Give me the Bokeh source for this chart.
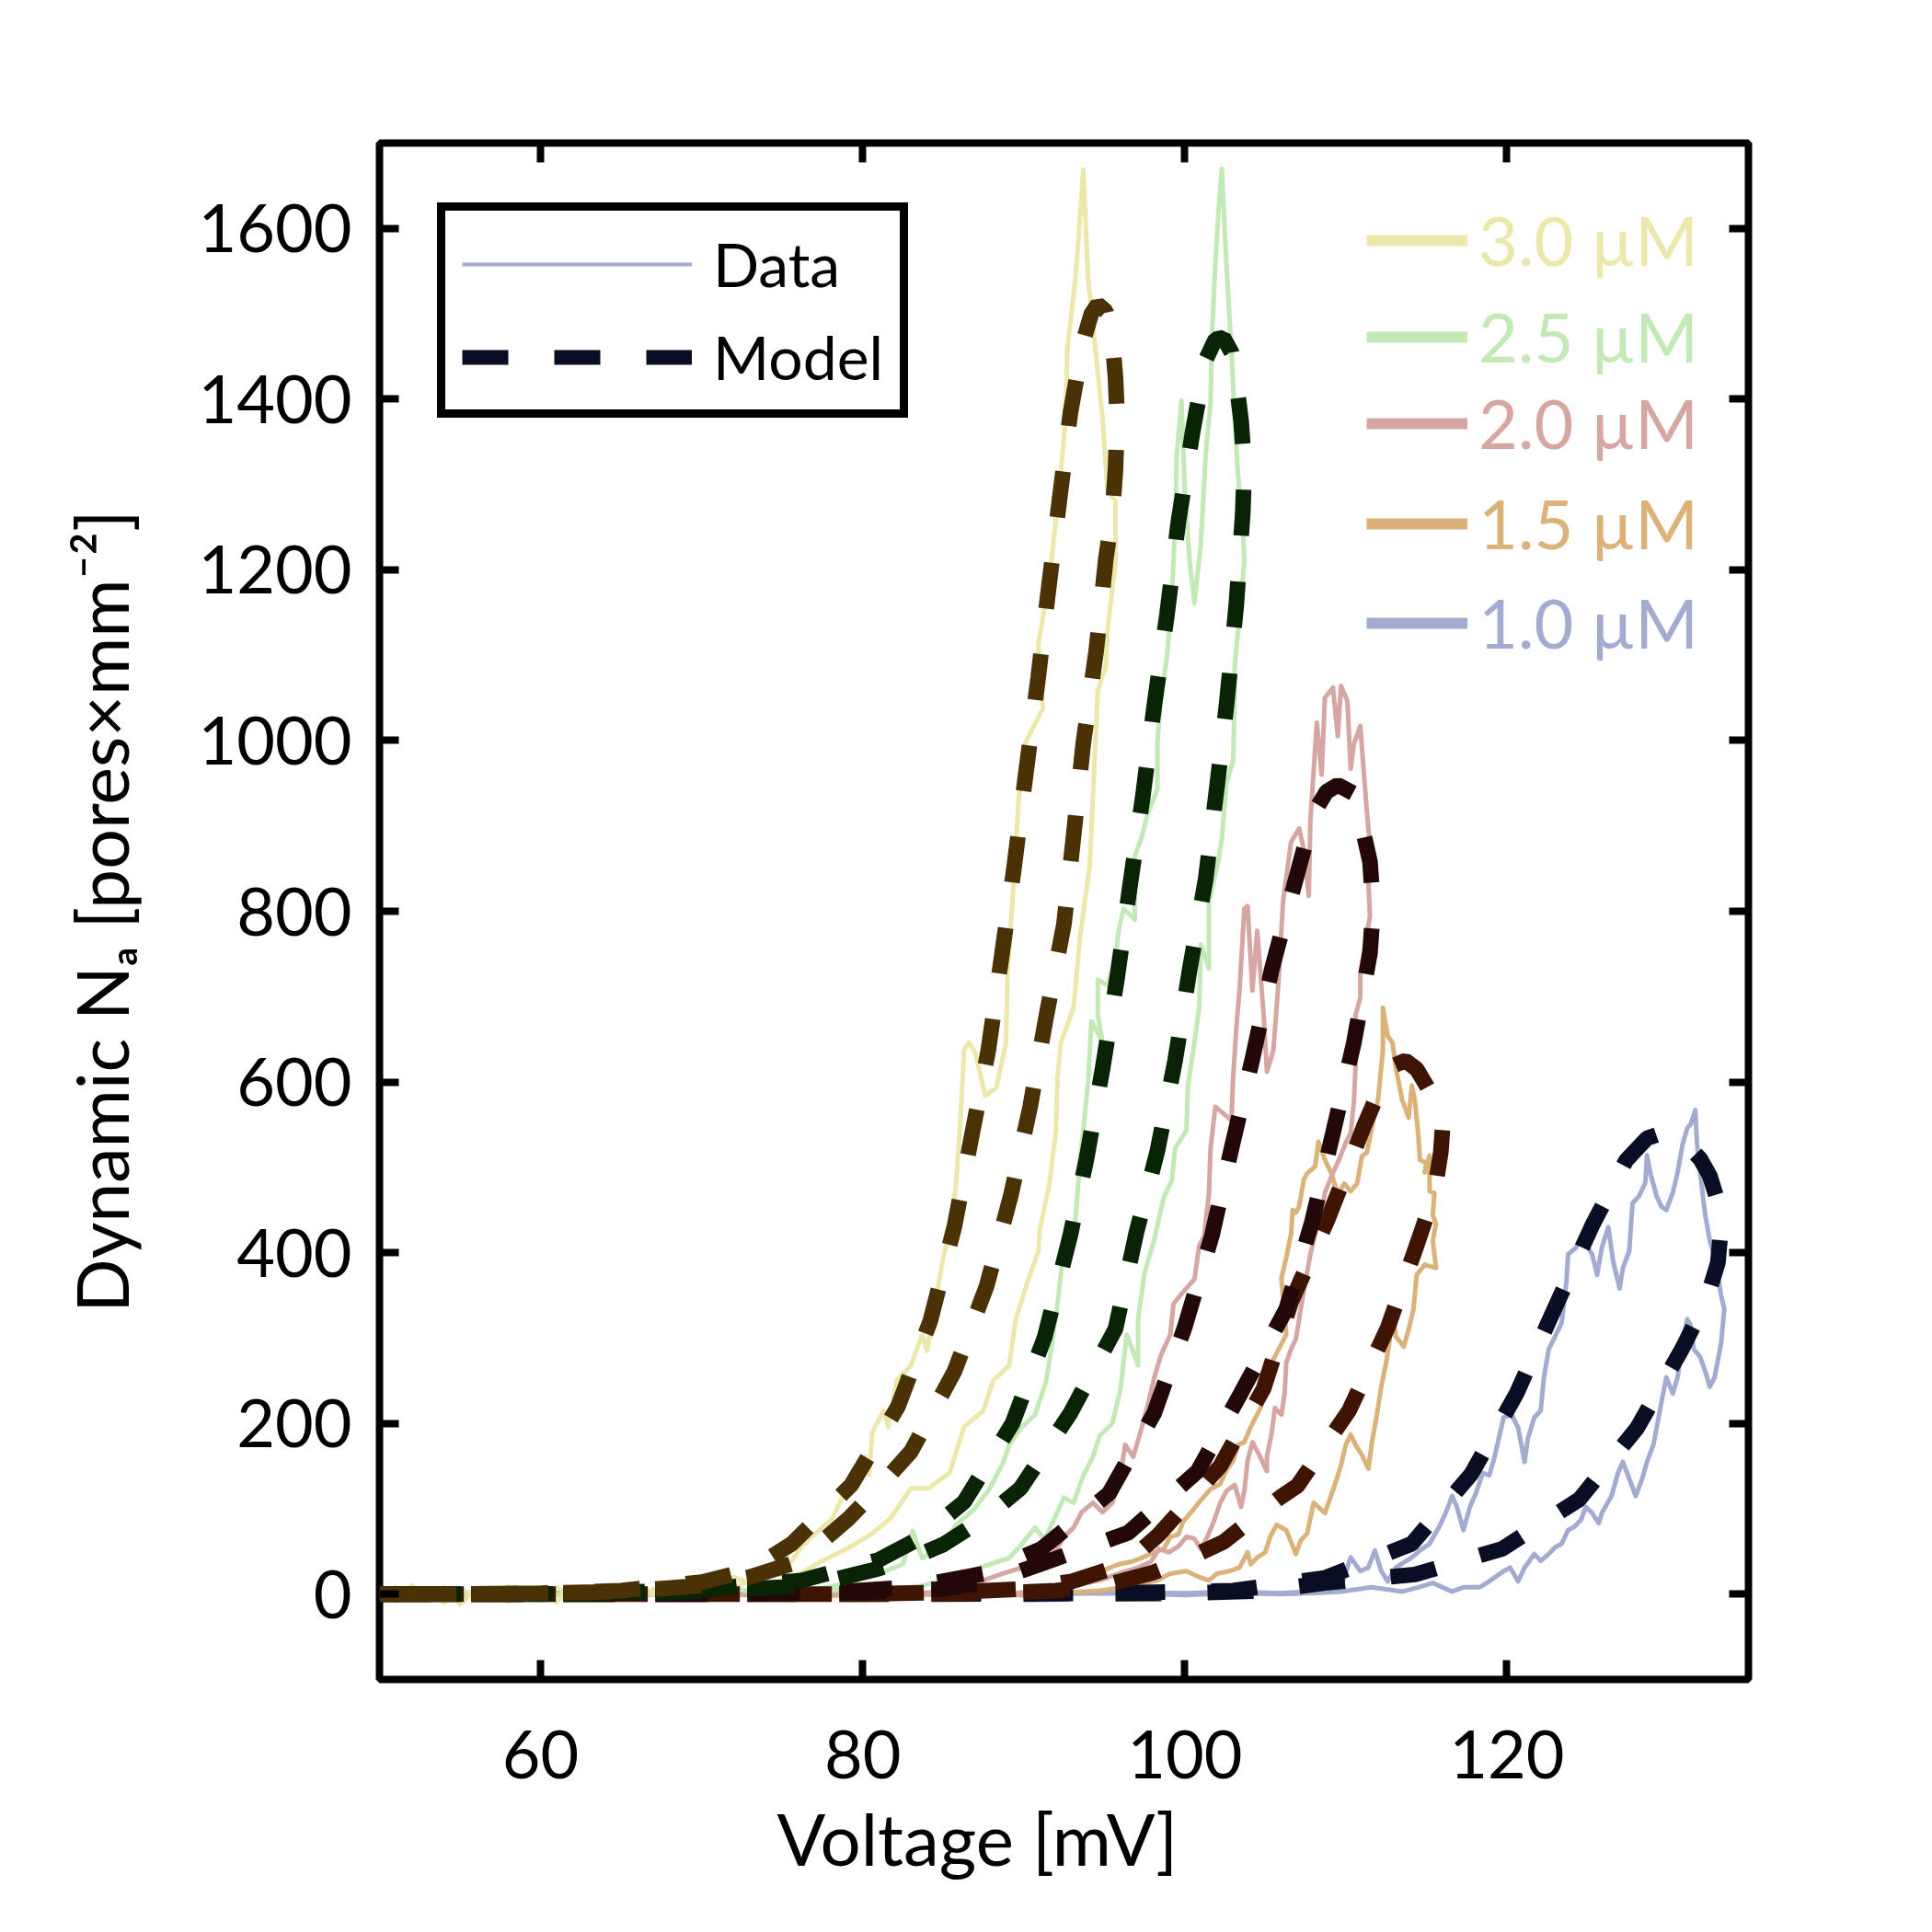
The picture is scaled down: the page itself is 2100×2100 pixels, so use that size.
import math
from bokeh.plotting import figure
from bokeh.models import Range1d, FixedTicker, LinearAxis, Legend, LegendItem, Title
from bokeh.embed import file_html
from bokeh.resources import INLINE

# ---------------- tick values ----------------
x_ticks = [60, 80, 100, 120]
y_ticks = [0, 200, 400, 600, 800, 1000, 1200, 1400, 1600]

conc_labels = ["3.0 µM", "2.5 µM", "2.0 µM", "1.5 µM", "1.0 µM"]
data_colors = ["#ece7aa", "#c3e9b6", "#d6a6a2", "#dbb27a", "#a3acd0"]
model_colors = ["#4a3206", "#082405", "#230808", "#3e1402", "#0a0e24"]

# ---------------- measured data (voltage mV, Na pores/mm^2) ----------------
V30_data = [50, 51, 52, 53, 54, 55, 56, 57, 58, 59, 60, 61, 62, 63, 64, 65, 66, 67, 68, 69, 70, 71, 72, 73, 74, 75,
            76.1, 77.0, 78.1, 79.0, 80.1, 80.4, 80.6, 81.3, 81.6, 82.1, 83.0, 83.7, 84.0, 84.5, 85.0, 85.5, 85.8, 86.1,
            86.3, 86.6, 87.0, 87.6, 88.3, 88.9, 89.0, 89.3, 89.7, 90.1, 91.2, 90.9, 91.6, 92.2, 92.6, 92.7, 93.2, 93.4,
            93.7,
            93.9, 94.0, 94.5, 94.9, 95.2, 95.7, 95.7, 95.2, 95.1, 94.6, 94.5, 94.3, 94.1, 93.5, 93.1, 92.7, 92.3, 92.1,
            92.0, 91.6, 91.0, 90.9, 90.3, 89.5, 89.1, 88.1, 87.5, 86.3, 85.4, 84.1, 83.0, 81.7, 80.5, 79.0, 77.4, 76.1,
            75, 74, 73, 72, 71, 70, 69, 68, 67, 66, 65, 64, 63, 62, 61, 60, 59, 58, 57, 56, 55, 54, 53, 52, 51, 50]
N30_data = [5, -8, 10, -5, 8, -12, 6, -4, 9, -6, 4, -9, 7, -3, 10, -2, 8, 0, 12, 4, 15, 6, 20, 12, 28, 22,
            53, 70, 88, 124, 161, 140, 189, 215, 196, 250, 268, 304, 285, 340, 394, 431, 481, 564,
            638, 646, 634, 584, 593, 646, 729, 811, 935, 997, 1038, 1112, 1190, 1293, 1376, 1457, 1540, 1586,
            1669,
            1582, 1541, 1450, 1376, 1293, 1281, 1211, 1128, 1087, 1059, 1018, 935, 853, 770, 688, 666, 646, 605,
            543, 481, 427, 401, 369, 322, 268, 250, 215, 196, 142, 124, 124, 88, 70, 53, 38, 24,
            15, 8, 18, 5, 12, 2, 9, -3, 6, -5, 4, -7, 5, -4, 8, -6, 3, -9, 5, -3, 7, -10, 4, -6, 8, -2]

V25_data = [50, 52, 54, 56, 58, 60, 62, 64, 66, 68, 70, 72, 74, 76,
            77.0, 79.0, 81.0, 82.5, 83.1, 83.7, 84.9, 85.8, 86.9, 87.9, 88.7, 89.1, 89.9, 90.7, 91.4, 91.7, 92.1, 92.5,
            93.1, 93.3, 93.5, 93.7, 94.0, 94.2, 94.9, 94.6, 94.6, 95.2, 95.7, 95.9, 96.2, 96.9, 96.9, 97.3, 97.7, 98.3,
            98.3, 98.5, 98.9, 99.2, 99.4, 99.5, 99.8, 100.0, 100.3, 100.6, 101.0, 101.3, 101.6, 101.7, 101.9, 102.1,
            102.3,
            102.5, 102.7, 102.9, 103.1, 103.3, 103.6, 103.7, 103.4, 103.1, 103.1, 103.0, 102.6, 102.3, 102.1, 101.5,
            101.5, 101.0, 100.9, 100.6, 100.2, 100.1, 99.4, 99.2, 98.7, 98.1, 97.5, 97.1, 97.1, 96.4, 96.0, 95.5, 94.7,
            94.3, 93.7, 93.1, 92.5, 91.9, 91.3, 90.7, 89.9, 89.1, 87.9, 86.6, 85.4, 83.8,
            82, 80, 78, 76, 74, 72, 70, 68, 66, 64, 62, 60, 58, 56, 54, 52, 50]
N25_data = [2, -4, 3, -2, 4, 0, -3, 3, -1, 4, 2, 5, 3, 6,
            5, 13, 24, 35, 74, 42, 56, 81, 99, 124, 153, 175, 196, 210, 250, 286, 340, 408,
            415, 460, 510, 543, 601, 671, 646, 679, 720, 713, 745, 778, 803, 790, 865, 885, 914, 943,
            997, 1047, 1099, 1169, 1252, 1335, 1398, 1293, 1211, 1161, 1231, 1335, 1396, 1479, 1561, 1622,
            1670,
            1590, 1520, 1457, 1376, 1313, 1252, 1211, 1148, 1087, 1050, 976, 951, 885, 860, 811,
            733, 761, 688, 646, 596, 543, 522, 485, 465, 415, 376, 322, 268, 304, 239, 200, 185,
            161, 139, 107, 113, 88, 64, 78, 59, 42, 35, 27, 20, 10,
            6, 9, 4, 7, 2, 5, 1, 4, -2, 3, -3, 2, -2, 3, -3, 1, 0]

V20_data = [50, 53, 56, 59, 62, 65, 68, 71, 74, 77, 80.1,
            82.6, 84.6, 86.3, 87.5, 88.7, 89.9, 91.1, 91.9, 92.5, 93.1, 93.6, 94.3, 94.9, 95.5, 96.0, 96.3, 96.8, 97.3,
            97.7, 98.1, 98.5, 99.1, 99.3, 99.9, 100.6, 100.9, 101.2, 101.5, 101.6, 101.9, 102.9, 103.0, 103.2, 103.4,
            103.7, 103.9, 104.2, 104.5, 104.9, 105.1, 105.5, 105.8, 106.1, 106.6, 107.1, 107.4, 107.7, 107.8, 108.2,
            108.5, 108.7, 109.2, 109.5, 109.7,
            110.1, 110.3, 110.5, 110.9, 111.1, 111.3, 111.5, 111.4, 111.5, 111.2, 110.9, 110.9, 110.6, 110.6, 110.5,
            110.3, 110.0, 109.6, 109.1, 108.7, 108.5, 108.1, 107.8, 107.5, 107.2, 106.9, 106.6, 106.3, 106.2, 106.0,
            105.6, 105.4, 105.1, 105.1, 104.6, 104.2, 103.9, 103.7, 103.5, 103.1, 102.6, 102.2, 101.8, 101.4, 101.0,
            100.6, 100.1, 99.6, 99.0, 98.4, 97.9, 97.1, 95.9, 94.7, 93.1, 91.1, 89.1,
            87, 84, 81, 78, 75, 72, 69, 66, 63, 60, 57, 54, 51, 50]
N20_data = [1, -3, 2, -2, 3, -1, 2, 4, -2, 3, -2,
            0, 2, 8, 16, 24, 31, 38, 49, 67, 78, 96, 107, 96, 107, 139, 175, 161, 193,
            221, 253, 279, 304, 340, 354, 369, 408, 419, 469, 522, 571, 555, 605, 663, 708,
            803, 806, 707, 777, 678, 612, 637, 712, 811, 881, 897, 872, 818, 906, 1021,
            960, 1050, 1062, 1005, 1064,
            1046, 967, 996, 1017, 967, 918, 877, 836, 794, 761, 728, 699, 678, 617, 576,
            540, 529, 510, 489, 470, 446, 422, 398, 367, 334, 299, 287, 271, 235, 210,
            218, 189, 161, 144, 164, 178, 156, 121, 102, 128, 121, 107, 85, 67, 53,
            65, 67, 56, 49, 53, 38, 31, 24, 16, 10, 2, 0,
            -2, 2, -3, 1, -1, 2, -2, 1, -1, 2, -1, 1, -1, 0]

V15_data = [50, 54, 58, 62, 66, 70, 74, 78, 82, 86, 89.1,
            90.7, 92.1, 93.3, 94.3, 95.1, 95.9, 96.7, 97.4, 98.1, 98.7, 99.1, 99.6, 99.9, 100.4, 101.0, 101.6, 102.2,
            102.6, 103.0, 103.3, 103.7, 104.1, 104.7, 105.0, 105.3, 105.7, 106.3, 106.0, 106.3, 106.6, 106.7, 106.9,
            107.1, 107.4, 107.6, 108.1, 108.3, 108.7, 109.1, 109.5, 109.9, 110.3, 110.7, 111.0, 111.3, 111.7, 112.0,
            112.3, 112.3,
            112.6, 112.9, 113.1, 113.5, 113.9, 114.1, 114.3, 114.5, 114.6, 115.0, 114.9, 115.2, 115.2, 115.5, 115.4,
            115.6, 115.4, 115.6, 114.9, 114.4, 114.2, 113.9, 113.6, 113.1, 112.9, 112.7, 112.5, 112.2, 111.9, 111.6,
            111.4, 111.0, 110.6, 110.3, 110.0, 109.7, 109.3, 108.7, 108.3, 108.0, 107.6, 107.2, 106.9, 106.3, 105.7,
            105.3, 105.0, 104.5, 104.1, 103.9, 103.4, 102.8, 102.0, 101.5, 100.9, 100.1, 99.1, 98.3, 97.5, 96.3, 94.7,
            93.1,
            90, 86, 82, 78, 74, 70, 66, 62, 58, 54, 50]
N15_data = [1, -2, 2, -1, 2, -2, 1, -2, 2, -1, 0,
            4, 10, 16, 24, 29, 35, 38, 43, 49, 53, 67, 70, 85, 96, 110, 123, 129,
            146, 156, 175, 178, 196, 218, 243, 268, 282, 304, 370, 394, 422, 450, 447,
            454, 486, 493, 501, 530, 509, 493, 468, 481, 472, 481, 513, 517, 554, 579,
            637, 687,
            654, 646, 617, 579, 558, 596, 576, 538, 509, 505, 494, 514, 472, 470, 444,
            434, 414, 382, 386, 374, 334, 310, 290, 302, 334, 294, 271, 243, 207, 175,
            147, 163, 175, 187, 175, 151, 127, 95, 102, 107, 71, 63, 47, 75, 81,
            67, 49, 43, 35, 49, 31, 27, 24, 16, 20, 27, 24, 16, 13, 8, 4,
            2,
            -1, 2, -2, 1, -1, 2, -1, 1, -2, 1, 0]

V10_data = [50, 55, 60, 65, 70, 75, 80, 85, 90, 95, 100, 103, 105.9,
            107.8, 109.7, 110.3, 110.9, 111.4, 111.8, 112.2, 112.6, 113.1, 113.5, 114.1, 114.6, 115.2, 115.8, 116.2,
            116.6, 116.9, 117.3, 117.7, 118.1, 118.5, 118.9, 119.2, 119.8, 120.3, 120.7, 121.1, 121.3, 121.7, 122.1,
            122.3, 122.6, 123.0, 123.4, 123.7, 123.8, 124.3, 124.7, 124.9, 125.3, 125.6, 125.9, 126.3, 126.6, 127.0,
            127.2, 127.6, 127.8, 128.2, 128.6, 128.7, 128.9, 129.3, 129.6, 129.9, 130.3, 130.6, 130.9, 131.2, 131.4,
            131.7,
            131.8, 132.0, 132.3, 132.6, 132.9, 133.1, 133.3, 133.5, 133.3, 132.9, 132.6, 132.3, 132.0, 131.6, 131.4,
            131.2, 130.9, 130.6, 130.3, 129.9, 129.7, 129.5, 129.1, 128.7, 128.4, 128.0, 127.6, 127.2, 126.9, 126.5,
            125.9, 125.7, 125.3, 124.9, 124.6, 124.2, 123.8, 123.4, 123.0, 122.6, 122.1, 121.7, 121.1, 120.7, 120.2,
            119.8, 119.2, 118.9, 118.3, 117.3, 116.6, 115.4, 114.5, 113.5, 111.6, 109.7, 107.8, 105.9,
            103, 100, 95, 90, 85, 80, 75, 70, 65, 60, 55, 50]
N10_data = [0, 1, -1, 1, 0, -1, 1, 0, -1, 2, 1, 3, 1,
            3, 8, 43, 27, 31, 51, 27, 15, 31, 36, 43, 51, 59, 79, 95,
            115, 102, 75, 102, 119, 142, 139, 158, 207, 210, 195, 155, 182, 207, 215,
            254, 287, 302, 318, 367, 398, 406, 422, 410, 398, 374, 406, 430, 390, 358,
            382, 402, 458, 466, 482, 514, 494, 466, 454, 450, 470, 494, 526, 546, 550,
            567,
            529, 494, 446, 414, 394, 374, 350, 334, 294, 254, 243, 262, 278, 287, 315,
            322, 294, 254, 235, 254, 235, 215, 175, 155, 135, 115, 135, 155, 142, 115,
            95, 83, 95, 102, 87, 79, 75, 59, 55, 47, 39, 47, 31, 15, 31,
            27, 19, 15, 8, 8, 3, 13, 8, 3, 8, 3, 1, 0,
            1, -1, 1, 0, -1, 1, 0, -1, 1, 0, -1, 0]

# ---------------- model curves ----------------
V30_model = [50, 55, 60, 65, 70, 73, 76, 79.1, 81, 83.0, 85.7, 87.7, 89.2, 90.4, 91.4, 92.5, 93.1, 93.7, 94.5, 95.1,
             95.5, 95.7, 95.8, 95.7, 95.5, 95.1, 94.6, 94.2, 93.7, 92.9, 92.2, 91.5, 90.9, 90.1, 89.4, 88.6, 87.8,
             86.7, 85.7, 84.2, 82.2, 79.3, 75.6, 73, 70, 65, 60, 55, 50]
N30_model = [0, 0, 1, 3, 10, 20, 38, 88, 125, 167, 261, 361, 467, 571, 677, 785, 889, 997, 1105, 1213,
             1265, 1318, 1380, 1425, 1470, 1503, 1511, 1500, 1468, 1384, 1279, 1171, 1074, 957, 851, 743, 637,
             530, 431, 320, 220, 128, 59, 28, 14, 4, 1, 0, 0]

V25_model = [50, 60, 65, 70, 75, 78, 81, 83, 85.0, 87.5, 89.8, 92.9, 95.7, 97.0, 98.3, 99.4, 100.3, 101.3, 102.0,
             102.6, 103.2, 103.6, 103.7, 103.5, 103.2, 102.9, 102.4, 101.9, 101.3, 100.5, 99.6, 98.9, 98.1, 97.4,
             96.6, 95.8, 94.9, 93.9, 92.9, 91.3, 89.3, 86.3, 83.5, 81.0, 76.2, 70, 65, 60, 50]
N25_model = [0, 0, 1, 3, 8, 16, 30, 42, 58, 88, 124, 212, 311, 424, 519, 625, 731, 838, 946,
             1043, 1159, 1266, 1320, 1374, 1420, 1455, 1472, 1470, 1446, 1363, 1256, 1148, 1040, 935,
             830, 722, 616, 510, 421, 301, 200, 108, 65, 40, 16, 5, 2, 0, 0]

V20_model = [50, 70, 80, 85, 88, 91.3, 94, 96.5, 100.8, 103.5, 106.3, 107.9, 109.2, 110.5, 111.5, 111.7, 111.5,
             111.0, 110.5, 109.5, 108.8, 108.0, 106.9, 105.4, 104.2, 102.9, 101.7, 100.0, 98.1, 95.3, 91.1, 87.5,
             83, 78, 70, 50]
N20_model = [0, 0, 2, 6, 15, 37, 55, 72, 144, 236, 334, 436, 540, 646, 751, 805, 858,
             900, 938, 948, 940, 915, 838, 732, 627, 522, 421, 313, 212, 118, 53, 24,
             8, 2, 0, 0]

V15_model = [50, 80, 88, 92, 95, 98, 100, 102.4, 105.9, 107.0, 110.2, 112.6, 114.5, 115.5, 115.9, 116.0, 115.6,
             115.0, 114.4, 113.7, 112.7, 111.1, 108.9, 106.6, 104.9, 102.2, 98.4, 96.3, 93, 90, 85, 80, 50]
N15_model = [0, 0, 1, 4, 10, 25, 40, 61, 113, 127, 215, 312, 414, 470, 518, 545, 575,
             596, 615, 625, 617, 547, 440, 342, 241, 150, 70, 35, 15, 6, 2, 0, 0]

V10_model = [50, 90, 100, 105, 108.7, 114.3, 119.7, 124.5, 128.1, 130.9, 132.4, 133.1, 133.3, 133.1, 132.6, 132.0,
             131.0, 130.2, 129.3, 128.7, 127.4, 125.3, 122.9, 120.6, 117.8, 114.1, 108.7, 103, 95, 85, 50]
N10_model = [0, 0, 1, 4, 13, 23, 53, 111, 195, 288, 345, 388, 430, 460, 490, 510,
             530, 537, 538, 534, 508, 432, 332, 235, 141, 59, 19, 4, 1, 0, 0]

data_V = [V30_data, V25_data, V20_data, V15_data, V10_data]
data_N = [N30_data, N25_data, N20_data, N15_data, N10_data]
model_V = [V30_model, V25_model, V20_model, V15_model, V10_model]
model_N = [N30_model, N25_model, N20_model, N15_model, N10_model]

FONT = "Lato"
NAN = [float("nan")]

p = figure(width=2088, height=2084, x_range=Range1d(50, 135), y_range=Range1d(-100, 1700),
           output_backend="svg", toolbar_location=None,
           min_border_left=412, min_border_right=188, min_border_top=155, min_border_bottom=259)
p.background_fill_color = "white"
p.border_fill_color = "white"
p.xgrid.visible = False
p.ygrid.visible = False
p.outline_line_color = "black"
p.outline_line_width = 8
p.outline_line_alpha = 1.0

def style_axis(ax, ticks, show_labels):
    ax.ticker = FixedTicker(ticks=ticks)
    ax.axis_line_color = None
    ax.major_tick_in = 21
    ax.major_tick_out = 0
    ax.major_tick_line_width = 8
    ax.major_tick_line_color = "black"
    ax.minor_tick_line_color = None
    ax.major_label_text_font = FONT
    ax.major_label_text_color = "black"
    if show_labels:
        ax.major_label_text_font_size = "72px"
    else:
        ax.major_label_text_font_size = "1px"
        ax.major_label_text_alpha = 0

style_axis(p.xaxis[0], x_ticks, True)
style_axis(p.yaxis[0], y_ticks, True)
p.xaxis[0].major_label_standoff = 55
p.yaxis[0].major_label_standoff = 30

# y axis title
p.yaxis[0].axis_label = "Dynamic Nₐ [pores×mm⁻²]"
p.yaxis[0].axis_label_text_font = FONT
p.yaxis[0].axis_label_text_font_size = "77px"
p.yaxis[0].axis_label_text_font_style = "normal"
p.yaxis[0].axis_label_text_color = "black"
p.yaxis[0].axis_label_standoff = 56

top_ax = LinearAxis()
right_ax = LinearAxis()
style_axis(top_ax, x_ticks, False)
style_axis(right_ax, y_ticks, False)
p.add_layout(top_ax, "above")
p.add_layout(right_ax, "right")

# x axis title (placed left of centre, as in the original)
p.add_layout(Title(text="Voltage [mV]", align="left", offset=432, standoff=26,
                   text_font=FONT, text_font_size="78px", text_font_style="normal",
                   text_color="black"), "below")

# data traces (drawn first, models on top)
for i in range(4, -1, -1):
    p.line(data_V[i], data_N[i], line_color=data_colors[i], line_width=5, line_join="round")
for i in range(4, -1, -1):
    p.line(model_V[i], model_N[i], line_color=model_colors[i], line_width=17, line_dash="50 50")

# legend: Data / Model
r_data = p.line(NAN, NAN, line_color="#a3acd0", line_width=4)
r_model = p.line(NAN, NAN, line_color="#0a0e24", line_width=16, line_dash="50 50")
leg = Legend(items=[LegendItem(label="Data", renderers=[r_data]),
                    LegendItem(label="Model", renderers=[r_model])],
             location=(63, 1371), orientation="vertical",
             glyph_width=250, glyph_height=40, label_standoff=23,
             padding=18, spacing=22, margin=0,
             border_line_color="black", border_line_width=9, border_line_alpha=1.0,
             background_fill_color="white", background_fill_alpha=1.0,
             label_text_font=FONT, label_text_font_size="66px", label_text_color="black")
p.add_layout(leg)

# concentration legends (one per colour)
conc_loc_y = [1520, 1415, 1321, 1212, 1104]
for i in range(5):
    rr = p.line(NAN, NAN, line_color=data_colors[i], line_width=12)
    lg = Legend(items=[LegendItem(label=conc_labels[i], renderers=[rr])],
                location=(1073, conc_loc_y[i]), orientation="vertical",
                glyph_width=110, glyph_height=20, label_standoff=12,
                padding=0, spacing=0, margin=0,
                border_line_color=None, background_fill_alpha=0,
                label_text_font=FONT, label_text_font_size="74px", label_text_color=data_colors[i])
    p.add_layout(lg)

open("out.html", "w").write(file_html(p, INLINE))
